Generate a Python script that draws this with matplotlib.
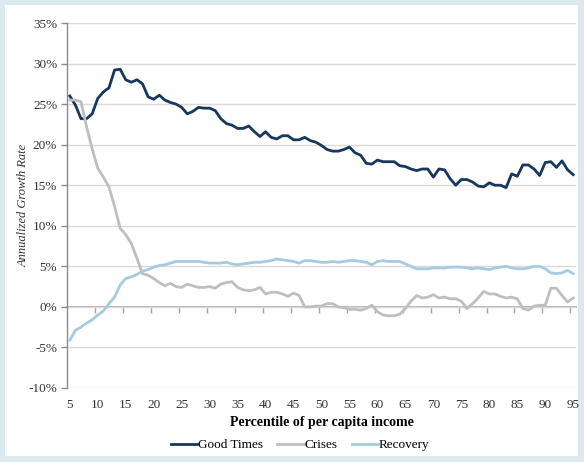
"""Annualized growth rate by income percentile: good times, crises, recovery."""

import matplotlib

matplotlib.use("Agg")
import matplotlib.pyplot as plt
from matplotlib.patches import Rectangle

# --- data ----------------------------------------------------------------
percentiles = list(range(5, 96))

good_times = [
    26.0, 24.9, 23.2, 23.2, 23.8, 25.7, 26.5, 27.0, 29.2, 29.3,
    28.0, 27.7, 28.0, 27.5, 25.9, 25.6, 26.1, 25.5, 25.2, 25.0,
    24.6, 23.8, 24.1, 24.6, 24.5, 24.5, 24.2, 23.2, 22.6, 22.4,
    22.0, 22.0, 22.3, 21.6, 21.0, 21.6, 20.9, 20.7, 21.1, 21.1,
    20.6, 20.6, 20.9, 20.5, 20.3, 19.9, 19.4, 19.2, 19.2, 19.4,
    19.7, 19.0, 18.7, 17.7, 17.6, 18.1, 17.9, 17.9, 17.9, 17.4,
    17.3, 17.0, 16.8, 17.0, 17.0, 16.0, 17.0, 16.9, 15.8, 15.0,
    15.7, 15.7, 15.4, 14.9, 14.8, 15.3, 15.0, 15.0, 14.7, 16.4,
    16.1, 17.5, 17.5, 17.0, 16.2, 17.8, 17.9, 17.2, 18.0, 16.9,
    16.3,
]

crises = [
    25.5, 25.5, 25.3, 22.2, 19.5, 17.1, 16.0, 14.8, 12.4, 9.7,
    8.9, 7.8, 6.0, 4.1, 3.9, 3.5, 3.0, 2.6, 2.9, 2.5,
    2.4, 2.8, 2.6, 2.4, 2.4, 2.5, 2.3, 2.8, 3.0, 3.1,
    2.4, 2.1, 2.0, 2.1, 2.4, 1.6, 1.8, 1.8, 1.6, 1.3,
    1.7, 1.4, 0.0, 0.0, 0.1, 0.1, 0.4, 0.4, 0.0, -0.1,
    -0.3, -0.3, -0.4, -0.2, 0.2, -0.6, -1.0, -1.1, -1.1, -0.9,
    -0.2, 0.7, 1.4, 1.1, 1.2, 1.5, 1.1, 1.2, 1.0, 1.0,
    0.7, -0.2, 0.4, 1.1, 1.9, 1.6, 1.6, 1.3, 1.1, 1.2,
    1.0, -0.2, -0.4, 0.1, 0.2, 0.2, 2.3, 2.3, 1.4, 0.6,
    1.1,
]

recovery = [
    -4.1, -2.9, -2.5, -2.0, -1.6, -1.0, -0.5, 0.4, 1.2, 2.7,
    3.5, 3.7, 4.0, 4.4, 4.6, 4.9, 5.1, 5.2, 5.4, 5.6,
    5.6, 5.6, 5.6, 5.6, 5.5, 5.4, 5.4, 5.4, 5.5, 5.3,
    5.2, 5.3, 5.4, 5.5, 5.5, 5.6, 5.7, 5.9, 5.8, 5.7,
    5.6, 5.4, 5.7, 5.7, 5.6, 5.5, 5.5, 5.6, 5.5, 5.6,
    5.7, 5.7, 5.6, 5.5, 5.2, 5.6, 5.7, 5.6, 5.6, 5.6,
    5.3, 5.0, 4.7, 4.7, 4.7, 4.8, 4.8, 4.8, 4.9, 4.9,
    4.9, 4.8, 4.7, 4.8, 4.7, 4.6, 4.8, 4.9, 5.0, 4.8,
    4.7, 4.7, 4.8, 5.0, 5.0, 4.7, 4.2, 4.1, 4.2, 4.5,
    4.1,
]

series_names = ["Good Times", "Crises", "Recovery"]
series_colors = ["#17375e", "#bfbfbf", "#a5cbe0"]

y_ticks = list(range(-10, 40, 5))
y_tick_labels = [f"{v}%" for v in y_ticks]
x_ticks = list(range(5, 100, 5))

# --- figure ----------------------------------------------------------------
plt.rcParams["font.family"] = ["Liberation Serif", "DejaVu Serif"]

W, H = 584, 462
fig = plt.figure(figsize=(W / 100, H / 100), dpi=100, facecolor="#dde9f1")
fig.patches.append(
    Rectangle((5 / W, 1 - 456 / H), 573 / W, 451 / H,
              transform=fig.transFigure, facecolor="white",
              edgecolor="none", zorder=-10)
)

ax = fig.add_axes([67 / W, 1 - 388 / H, 509 / W, 365 / H])
ax.set_zorder(1)
ax.set_facecolor("white")

for vals, name, col in zip([good_times, crises, recovery], series_names, series_colors):
    ax.plot(percentiles, vals, color=col, lw=2.0, label=name,
            solid_joinstyle="round", zorder=3)

ax.set_xlim(4.5, 95.5)
ax.set_ylim(-10, 35)

ax.set_yticks(y_ticks)
ax.set_yticklabels(y_tick_labels)
ax.set_xticks(x_ticks)
ax.set_xticklabels([str(v) for v in x_ticks])

ax.yaxis.grid(True, color="#d9d9d9", lw=1.0, zorder=1)
ax.set_axisbelow(True)

for side in ["top", "right", "bottom"]:
    ax.spines[side].set_visible(False)
ax.spines["left"].set_color("#8c8c8c")
ax.spines["left"].set_linewidth(1.0)

ax.tick_params(axis="y", direction="out", length=4, width=1.0, color="#8c8c8c",
               labelsize=9.5, pad=3, labelcolor="#333333")
ax.tick_params(axis="x", length=0, labelsize=9.5, pad=8, labelcolor="#333333")

# horizontal axis sits at the 0% line with ticks between categories
zero_axis = ax.secondary_xaxis(10 / 45)
zero_axis.set_xticks([v - 0.5 for v in x_ticks[1:]])
zero_axis.tick_params(direction="out", length=4, width=1.0, color="#a6a6a6",
                      labelbottom=False)
zero_axis.spines["bottom"].set_color("#a6a6a6")
zero_axis.spines["bottom"].set_linewidth(1.2)

ax.set_xlabel("Percentile of per capita income", fontsize=10, fontweight="bold")
ax.xaxis.set_label_coords(0.5, -(416 - 388) / 365)
ax.set_ylabel("Annualized Growth Rate", fontsize=9, style="italic",
              color="#333333", va="center")
ax.yaxis.set_label_coords((24 - 67) / 509, 0.5)

fig.legend(loc="center", bbox_to_anchor=(300 / W, 1 - 445 / H), ncol=3,
           frameon=False, fontsize=9.5, handlelength=2.0, handletextpad=0.05,
           columnspacing=1.1)

fig.savefig("out.png", dpi=100, facecolor=fig.get_facecolor())
